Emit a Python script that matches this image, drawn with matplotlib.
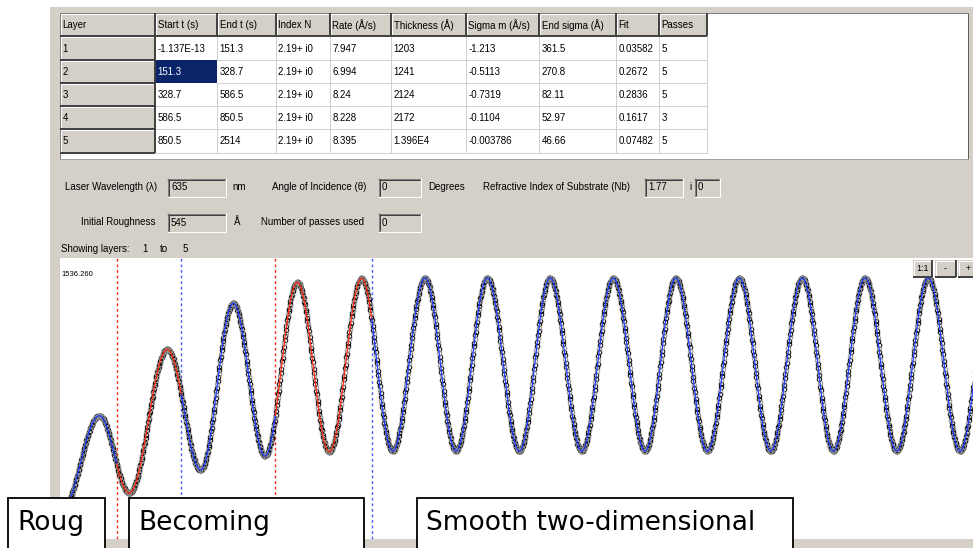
import numpy as np
import matplotlib
matplotlib.use("Agg")
import matplotlib.pyplot as plt
from matplotlib.patches import Rectangle

# ---------------- data ----------------
headers = ["Layer", "Start t (s)", "End t (s)", "Index N", "Rate (Å/s)", "Thickness (Å)",
           "Sigma m (Å/s)", "End sigma (Å)", "Fit", "Passes"]
layer_ids = ["1", "2", "3", "4", "5"]
start_t = ["-1.137E-13", "151.3", "328.7", "586.5", "850.5"]
end_t = ["151.3", "328.7", "586.5", "850.5", "2514"]
index_n = ["2.19+ i0", "2.19+ i0", "2.19+ i0", "2.19+ i0", "2.19+ i0"]
rate = ["7.947", "6.994", "8.24", "8.228", "8.395"]
thickness = ["1203", "1241", "2124", "2172", "1.396E4"]
sigma_m = ["-1.213", "-0.5113", "-0.7319", "-0.1104", "-0.003786"]
end_sigma = ["361.5", "270.8", "82.11", "52.97", "46.66"]
fit = ["0.03582", "0.2672", "0.2836", "0.1617", "0.07482"]
passes = ["5", "5", "5", "3", "5"]

layer_bounds = [0.0, 151.3, 328.7, 586.5, 850.5, 2514.0]   # s
boundary_colors = ["#ff2a1a", "#4a5cff", "#ff2a1a", "#4a5cff"]
layer_colors = ["#1f3cff", "#ff2a10", "#1f3cff", "#ff2a10", "#1f3cff"]

# turning points of the reflectance signal (time s, signal)
ext_t = [0.0, 103.6, 185.9, 290.1, 381.7, 471.1, 558.0, 646.6, 734.3, 823.1, 908.1,
         996.7, 1081.7, 1167.5, 1255.3, 1339.5, 1426.4, 1513.0, 1600.0, 1684.2, 1770.8,
         1858.5, 1944.6, 2031.3, 2116.3, 2203.2, 2290.1, 2376.7, 2463.7, 2550.0]
ext_v = [154, 674, 251, 1037, 377, 1289, 454, 1403, 477, 1425, 481,
         1427, 481, 1427, 481, 1427, 481, 1427, 481, 1427, 481,
         1427, 481, 1427, 481, 1427, 481, 1427, 481, 1427]

y_top_label = "1536.260"
controls_row1 = [("Laser Wavelength (λ)", "635", "nm"),
                 ("Angle of Incidence (θ)", "0", "Degrees"),
                 ("Refractive Index of Substrate (Nb)", "1.77", "i")]
controls_row2 = [("Initial Roughness", "545", "Å"), ("Number of passes used", "0", "")]
stage_labels = ["Roug", "Becoming", "Smooth two-dimensional"]

# ---------------- helpers ----------------
W, H = 973, 548
GRAY = "#d4d0c8"
UI_FONT = ["Liberation Sans", "DejaVu Sans"]
FS = 7

fig = plt.figure(figsize=(W / 100, H / 100), dpi=100, facecolor="white")

ui = fig.add_axes([0, 0, 1, 1], zorder=0)
ui.set_xlim(0, W)
ui.set_ylim(H, 0)
ui.axis("off")


def rect(ax, x0, y0, x1, y1, fc, ec="none", lw=0.0, z=1, clip=True):
    r = Rectangle((x0, y0), x1 - x0, y1 - y0, facecolor=fc, edgecolor=ec, linewidth=lw,
                  zorder=z)
    r.set_clip_on(clip)
    ax.add_patch(r)


def line(ax, xs, ys, c, lw=0.72, z=3):
    ax.plot(xs, ys, color=c, lw=lw, zorder=z, solid_capstyle="butt")


def txt(ax, x, y, s, color="black", size=FS, ha="left", z=5, **kw):
    ax.text(x, y, s, color=color, fontsize=size, ha=ha, va="center", family=UI_FONT,
            zorder=z, **kw)


def raised(ax, x0, y0, x1, y1):
    rect(ax, x0, y0, x1, y1, GRAY, z=2)
    line(ax, [x0 + 0.5, x1 - 1], [y0 + 0.5, y0 + 0.5], "white")
    line(ax, [x0 + 0.5, x0 + 0.5], [y0 + 0.5, y1 - 1], "white")
    line(ax, [x0, x1], [y1 - 0.5, y1 - 0.5], "#404040", lw=1.4)
    line(ax, [x1 - 0.5, x1 - 0.5], [y0, y1], "#404040", lw=1.4)


def sunken(ax, x0, y0, x1, y1, value):
    rect(ax, x0, y0, x1, y1, GRAY, z=2)
    line(ax, [x0, x1], [y0 + 0.5, y0 + 0.5], "#808080")
    line(ax, [x0 + 0.5, x0 + 0.5], [y0, y1], "#808080")
    line(ax, [x0 + 1, x1 - 1], [y0 + 1.5, y0 + 1.5], "#404040")
    line(ax, [x0 + 1.5, x0 + 1.5], [y0 + 1, y1 - 1], "#404040")
    line(ax, [x0, x1], [y1 - 0.5, y1 - 0.5], "white")
    line(ax, [x1 - 0.5, x1 - 0.5], [y0, y1], "white")
    txt(ax, x0 + 4, (y0 + y1) / 2, value)


# ---------------- window background ----------------
rect(ui, 50, 7, W + 2, H + 2, GRAY, z=0)

# ---------------- table ----------------
col_x = [60, 155, 217, 276, 330, 391, 466, 539, 616, 659, 707]
row_y = [13, 36, 60, 83, 106, 129, 153]
rect(ui, 60, 13, 968, 159, "white", z=1)
line(ui, [60, 968], [13, 13], "#808080")
line(ui, [60, 60], [13, 159], "#808080")
line(ui, [968, 968], [13, 159], "#606060")
line(ui, [60, 968], [159, 159], "#a0a0a0")

columns = [layer_ids, start_t, end_t, index_n, rate, thickness, sigma_m, end_sigma, fit, passes]
for j, head in enumerate(headers):
    raised(ui, col_x[j], row_y[0], col_x[j + 1], row_y[1])
    txt(ui, col_x[j] + 2.5, (row_y[0] + row_y[1]) / 2 + 0.5, head)
for i in range(5):
    y0, y1 = row_y[i + 1], row_y[i + 2]
    raised(ui, col_x[0], y0, col_x[1], y1)
    txt(ui, col_x[0] + 2.5, (y0 + y1) / 2 + 0.5, columns[0][i])
    for j in range(1, 10):
        x0, x1 = col_x[j], col_x[j + 1]
        selected = (i == 1 and j == 1)
        if selected:
            rect(ui, x0, y0, x1, y1, "#0a246a", z=2)
        else:
            line(ui, [x1 - 0.5, x1 - 0.5], [y0, y1], "#d0d0d0", z=2)
            line(ui, [x0, x1], [y1 - 0.5, y1 - 0.5], "#d0d0d0", z=2)
        txt(ui, x0 + 2.5, (y0 + y1) / 2 + 0.5, columns[j][i],
            color="white" if selected else "black")

# ---------------- parameter controls ----------------
r1y, r2y = 187, 222
txt(ui, 65, r1y, controls_row1[0][0])
sunken(ui, 167, 178, 226, 197, controls_row1[0][1])
txt(ui, 232, r1y, controls_row1[0][2])
txt(ui, 272, r1y, controls_row1[1][0])
sunken(ui, 378, 178, 421, 197, controls_row1[1][1])
txt(ui, 428, r1y, controls_row1[1][2])
txt(ui, 483, r1y, controls_row1[2][0])
sunken(ui, 644, 178, 683, 197, controls_row1[2][1])
txt(ui, 689, r1y, controls_row1[2][2])
sunken(ui, 694, 178, 720, 197, "0")

txt(ui, 81, r2y, controls_row2[0][0])
sunken(ui, 167, 213, 226, 232, controls_row2[0][1])
txt(ui, 234, r2y, controls_row2[0][2])
txt(ui, 261, r2y, controls_row2[1][0])
sunken(ui, 378, 213, 421, 232, controls_row2[1][1])

txt(ui, 61, 249, "Showing layers:")
txt(ui, 142, 249, "1")
txt(ui, 160, 249, "to")
txt(ui, 183, 249, "5")

# ---------------- plot ----------------
px_left, px_right, px_top, px_bot = 60, 973, 258, 539
ax = fig.add_axes([px_left / W, (H - px_bot) / H, (px_right - px_left) / W,
                   (px_bot - px_top) / H], zorder=1)
ax.set_facecolor("white")
for s in ax.spines.values():
    s.set_visible(False)
ax.set_xticks([])
ax.set_yticks([])
ax.set_xlim(-4.1, 2499.3)
ax.set_ylim(0, 1536.26)

et = np.array(ext_t)
ev = np.array(ext_v, dtype=float)


def signal(t):
    i = np.clip(np.searchsorted(et, t, side="right") - 1, 0, len(et) - 2)
    f = (t - et[i]) / (et[i + 1] - et[i])
    return ev[i] + (ev[i + 1] - ev[i]) * (1 - np.cos(np.pi * f)) / 2


for b, c in zip(layer_bounds[1:5], boundary_colors):
    ax.axvline(b, color=c, lw=1.0, ls=(0, (2.0, 2.0)), zorder=2)

t_pts = np.arange(0.0, layer_bounds[-1], 1.2)
v_pts = signal(t_pts)
mask_dark = (np.arange(len(t_pts)) % 3) != 2
ax.plot(t_pts[mask_dark], v_pts[mask_dark], "o", ms=3.2, mfc="none", mec="#000000",
        mew=0.8, alpha=0.9, zorder=3)
ax.plot(t_pts[~mask_dark], v_pts[~mask_dark], "o", ms=3.2, mfc="none", mec="#909090",
        mew=0.8, alpha=0.9, zorder=3)

for k in range(5):
    tt = np.linspace(layer_bounds[k], layer_bounds[k + 1], 1200)
    ax.plot(tt, signal(tt), color=layer_colors[k], lw=0.9, zorder=4)

# ---------------- overlay (labels, buttons, stage boxes) ----------------
ov = fig.add_axes([0, 0, 1, 1], zorder=2)
ov.set_xlim(0, W)
ov.set_ylim(H, 0)
ov.axis("off")
ov.patch.set_alpha(0)

ov.text(61.5, 275, y_top_label, fontsize=5.5, family=UI_FONT, va="center", ha="left")

for (x0, x1, lab) in [(913, 932, "1:1"), (935, 956, "-"), (958, 979, "+")]:
    raised(ov, x0, 260, x1, 277)
    txt(ov, (x0 + x1) / 2, 268.5, lab, ha="center", size=6.5)

for (x0, x1, lab) in [(8, 105, stage_labels[0]), (129, 364, stage_labels[1]),
                      (417, 793, stage_labels[2])]:
    rect(ov, x0, 498, x1, 570, "white", ec="black", lw=1.3, z=6)
    ov.text(x0 + 9, 523, lab, fontsize=19, family="DejaVu Sans", va="center", ha="left",
            zorder=7)

fig.savefig("out.png", dpi=100, facecolor="white")
